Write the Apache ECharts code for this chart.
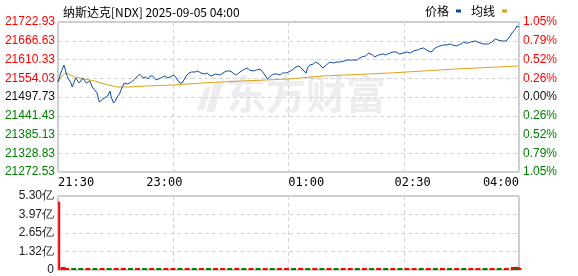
<!DOCTYPE html>
<html><head><meta charset="utf-8">
<script src="https://cdn.jsdelivr.net/npm/echarts@6/dist/echarts.min.js"></script>
<style>html,body{margin:0;padding:0;background:#fff}#c{width:578px;height:276px}</style>
</head><body><div id="c"></div>
<script>
// ---- data ----
var titleText = '纳斯达克[NDX] 2025-09-05 04:00';
var prevClose = 21497.73;
var priceStep = 56.3;
var leftLabels = ['21722.93','21666.63','21610.33','21554.03','21497.73','21441.43','21385.13','21328.83','21272.53'];
var rightLabels = ['1.05%','0.79%','0.52%','0.26%','0.00%','0.26%','0.52%','0.79%','1.05%'];
var xTickMinutes = [0, 90, 210, 300, 390];
var xTickLabels = ['21:30','23:00','01:00','02:30','04:00'];
var volLabels = ['0','1.32亿','2.65亿','3.97亿','5.30亿'];
// minutes after 21:30
var priceMinutes = [0,2,5,6,8,11,12,15,18,21,24,27,29,33,35,38,39,42,44,45,47,49,50,52,54,56,59,62,65,66,69,72,74,76,78,80,83,84,87,90,93,94,98,100,103,105,107,109,111,113,116,118,121,122,124,126,128,130,133,134,137,138,141,143,145,147,149,151,154,155,158,160,162,165,168,171,173,175,177,179,181,183,185,188,190,193,195,198,200,203,205,206,208,210,211,213,216,218,221,224,227,230,233,236,238,242,245,249,253,255,257,260,263,266,268,271,275,277,281,283,286,289,292,295,298,301,304,306,309,312,315,317,319,321,323,326,329,332,334,337,338,341,343,345,347,349,353,355,357,360,364,367,370,372,376,379,380,382,384,387,388,390];
var prices = [21542.8,21566.8,21593.8,21587.8,21557.8,21539.8,21527.8,21554.8,21539.8,21554.8,21539.8,21545.8,21527.8,21509.8,21482.7,21491.7,21494.7,21500.7,21515.7,21497.7,21479.7,21488.7,21497.7,21506.7,21524.8,21539.8,21536.8,21542.8,21551.8,21557.8,21566.8,21554.8,21557.8,21551.8,21560.8,21560.8,21548.8,21545.8,21554.8,21560.8,21554.8,21557.8,21563.8,21554.8,21539.8,21539.8,21551.8,21563.8,21569.8,21572.8,21572.8,21575.8,21569.8,21563.8,21566.8,21569.8,21563.8,21560.8,21566.8,21569.8,21563.8,21563.8,21572.8,21575.8,21575.8,21572.8,21566.8,21563.8,21572.8,21575.8,21581.8,21584.8,21578.8,21575.8,21578.8,21581.8,21572.8,21563.8,21551.8,21557.8,21563.8,21566.8,21566.8,21563.8,21569.8,21569.8,21572.8,21578.8,21584.8,21590.8,21587.8,21584.8,21575.8,21569.8,21584.8,21593.8,21596.8,21602.8,21596.8,21584.8,21593.8,21602.8,21599.8,21602.8,21602.8,21605.8,21608.8,21608.8,21608.8,21614.8,21617.8,21620.8,21629.8,21623.8,21617.8,21623.8,21626.8,21623.8,21629.8,21632.9,21632.9,21626.8,21629.8,21632.9,21629.8,21635.9,21638.9,21641.9,21644.9,21638.9,21632.9,21635.9,21644.9,21647.9,21650.9,21653.9,21653.9,21656.9,21653.9,21650.9,21647.9,21656.9,21662.9,21659.9,21659.9,21662.9,21665.9,21662.9,21659.9,21656.9,21656.9,21662.9,21671.9,21668.9,21665.9,21665.9,21659.9,21677.9,21689.9,21701.9,21710.9,21707.9];
var avgMinutes = [0,4,7,14,22,31,39,50,59,75,98,122,156,195,224,281,337,390];
var avgPrices = [21542.8,21563.8,21569.8,21557.8,21551.8,21545.8,21536.8,21527.8,21527.8,21530.8,21533.8,21539.8,21545.8,21551.8,21560.8,21569.8,21581.8,21590.8];
// volume (亿), bar direction 1 = up (red), -1 = down (green)
var volMinutes = [3,6,12,18,24,30,36,42,48,54,60,66,72,78,84,90,96,102,108,114,120,126,132,138,144,150,156,162,168,174,180,186,192,198,204,210,216,222,228,234,240,246,252,258,264,270,276,282,288,294,300,306,312,318,324,330,336,342,348,354,360,366,372,378,384,387,389];
var vols = [0.22,0.12,0.10,0.08,0.07,0.07,0.07,0.08,0.07,0.07,0.07,0.07,0.08,0.07,0.07,0.08,0.07,0.07,0.07,0.08,0.07,0.07,0.07,0.07,0.08,0.07,0.07,0.07,0.07,0.08,0.07,0.07,0.07,0.07,0.07,0.08,0.07,0.07,0.07,0.07,0.07,0.07,0.08,0.07,0.07,0.07,0.07,0.07,0.07,0.08,0.07,0.07,0.07,0.07,0.07,0.07,0.08,0.07,0.07,0.07,0.08,0.08,0.09,0.14,0.22,0.22,0.12];
var volDir = [1,1,-1,-1,1,-1,1,-1,1,1,-1,1,-1,1,-1,1,1,-1,1,-1,1,-1,1,1,-1,1,-1,1,-1,1,-1,1,1,-1,1,-1,1,-1,1,-1,1,1,-1,1,-1,1,-1,1,-1,1,1,-1,1,-1,1,-1,1,-1,1,1,-1,1,-1,1,1,-1,1];
var openSpikeMinute = 1;
var openSpikeVol = 4.89;

// ---- chart ----
var RED = '#ff0000', GREEN = '#008000', DARK = '#111111';
var FONT = 'Liberation Sans, Arial, sans-serif';
function lvlColor(i){ return i < 4 ? RED : (i === 4 ? DARK : GREEN); }
function toUnit(p){ return (p - prevClose) / priceStep; }

var priceData = priceMinutes.map(function(m,i){ return [m, toUnit(prices[i])]; });
var avgData = avgMinutes.map(function(m,i){ return [m, toUnit(avgPrices[i])]; });
var volData = volMinutes.map(function(m,i){ return {value:[m, vols[i]], itemStyle:{color: volDir[i] > 0 ? RED : GREEN}}; });

var dashed = {show:true, lineStyle:{color:'#d4d4d4', type:[4,3], width:1}};
var chart = echarts.init(document.getElementById('c'), null, {renderer:'canvas'});
chart.setOption({
  animation:false,
  textStyle:{fontFamily:FONT},
  title:{text:titleText, left:58, top:1, textStyle:{fontSize:12, fontWeight:'normal', color:'#000', fontFamily:'Noto Sans CJK SC, sans-serif'}},
  legend:{right:66, top:0, align:'right', itemWidth:5, itemHeight:3, itemGap:10, icon:'rect',
    textStyle:{fontSize:12, color:'#000', fontFamily:'Noto Sans CJK SC, sans-serif', padding:[0,2,0,0]},
    data:[{name:'价格'},{name:'均线'}]},
  graphic:[
    {type:'text', left:226, top:74, z:0, silent:true, style:{text:'东方财富', font:'bold 40px "Noto Sans CJK SC", sans-serif', fill:'#ededf0'}},
    {type:'polygon', z:0, silent:true, shape:{points:[[206,112],[214,84],[224,80],[214,112]]}, style:{fill:'#ededf0'}},
    {type:'polygon', z:0, silent:true, shape:{points:[[197,110],[205,88],[211,86],[204,110]]}, style:{fill:'#ededf0'}}
  ],
  grid:[
    {left:58, right:59, top:22, height:150, show:true, borderColor:'#999', borderWidth:1, backgroundColor:'transparent'},
    {left:58, right:59, top:196, height:74, show:true, borderColor:'#999', borderWidth:1, backgroundColor:'transparent'}
  ],
  xAxis:[
    {gridIndex:0, type:'value', min:0, max:390, interval:97.5, axisLine:{show:false}, axisTick:{show:false}, axisLabel:{show:false}, splitLine:dashed},
    {gridIndex:0, type:'value', min:0, max:390, position:'bottom', axisLine:{show:false}, axisTick:{show:false}, splitLine:{show:false},
      axisLabel:{show:true, customValues:xTickMinutes, margin:5, fontSize:12, color:'#000', fontFamily:'DejaVu Sans Mono, monospace',
        alignMinLabel:'left', alignMaxLabel:'right',
        formatter:function(v){ var k = xTickMinutes.indexOf(Math.round(v)); return k >= 0 ? xTickLabels[k] : ''; }}},
    {gridIndex:1, type:'value', min:0, max:390, interval:97.5, axisLine:{show:false}, axisTick:{show:false}, axisLabel:{show:false}, splitLine:dashed}
  ],
  yAxis:[
    {gridIndex:0, type:'value', min:-4, max:4, interval:1, axisLine:{show:false}, axisTick:{show:false}, splitLine:dashed,
      axisLabel:{margin:3, fontSize:12, fontFamily:FONT,
        formatter:function(v){ return leftLabels[4 - Math.round(v)]; },
        color:function(v){ return lvlColor(4 - Math.round(v)); }}},
    {gridIndex:0, type:'value', min:-4, max:4, interval:1, position:'right', axisLine:{show:false}, axisTick:{show:false}, splitLine:{show:false},
      axisLabel:{margin:4, fontSize:12, fontFamily:FONT,
        formatter:function(v){ return rightLabels[4 - Math.round(v)]; },
        color:function(v){ return lvlColor(4 - Math.round(v)); }}},
    {gridIndex:1, type:'value', min:0, max:5.3, interval:1.325, axisLine:{show:false}, axisTick:{show:false}, splitLine:dashed,
      axisLabel:{margin:4, fontSize:12, color:'#222', fontFamily:FONT,
        formatter:function(v){ return volLabels[Math.round(v / 1.325)]; }}}
  ],
  series:[
    {name:'价格', type:'line', xAxisIndex:0, yAxisIndex:0, data:priceData, showSymbol:false, lineStyle:{color:'#0d4d9f', width:1}, itemStyle:{color:'#0d4d9f'}, z:4},
    {name:'均线', type:'line', xAxisIndex:0, yAxisIndex:0, data:avgData, showSymbol:false, lineStyle:{color:'#dea11c', width:1}, itemStyle:{color:'#dea11c'}, z:3},
    {type:'bar', xAxisIndex:2, yAxisIndex:2, data:volData, barWidth:5, barGap:'-100%', barMinHeight:2},
    {type:'bar', xAxisIndex:2, yAxisIndex:2, data:[[openSpikeMinute, openSpikeVol]], barWidth:2, barGap:'-100%', itemStyle:{color:RED}}
  ]
});
</script></body></html>
